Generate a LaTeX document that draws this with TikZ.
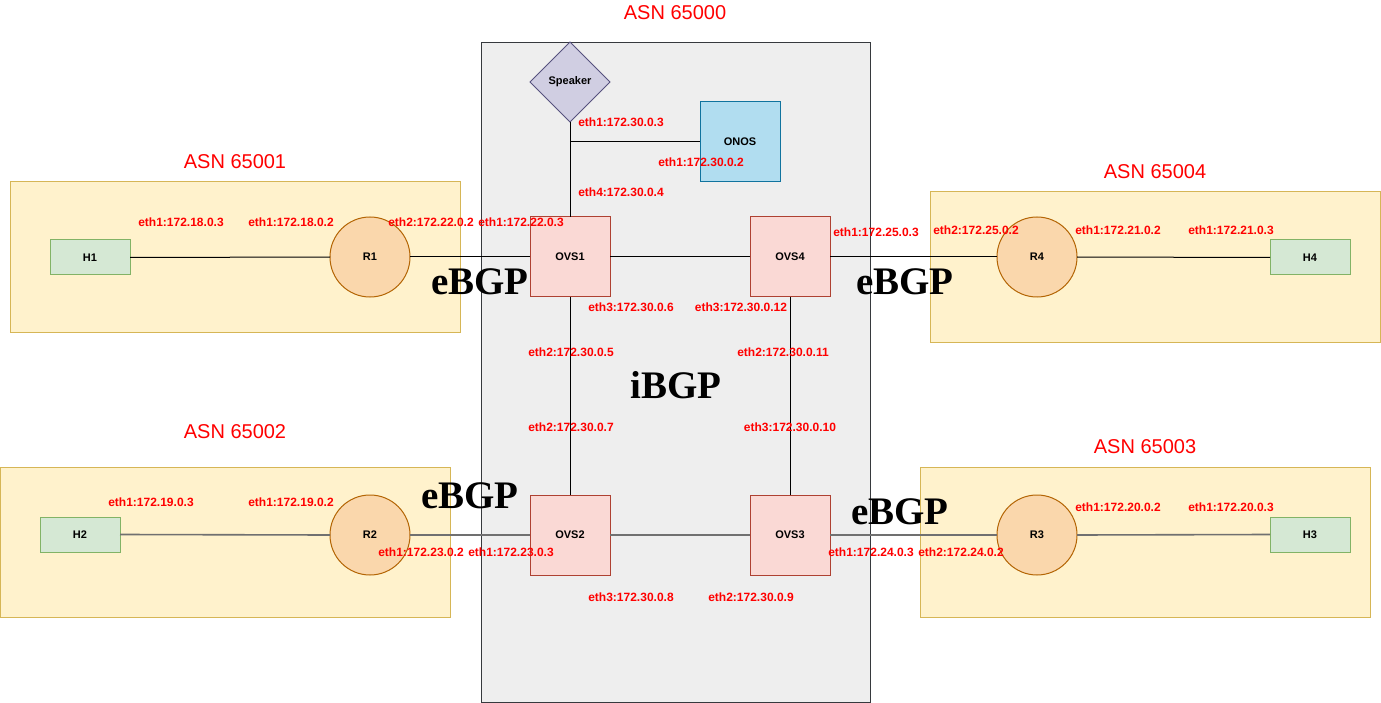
\documentclass[tikz,border=0pt]{standalone}
\usepackage{fontspec}
\setmainfont{Liberation Sans}
\newfontfamily\serifbgp{Liberation Serif}
\usetikzlibrary{shapes.geometric}
\definecolor{asnfill}{HTML}{FFF2CC}
\definecolor{asndraw}{HTML}{D6B656}
\definecolor{corefill}{HTML}{EEEEEE}
\definecolor{coredraw}{HTML}{36393D}
\definecolor{ovsfill}{HTML}{FAD9D5}
\definecolor{ovsdraw}{HTML}{AE4132}
\definecolor{rfill}{HTML}{FAD7AC}
\definecolor{rdraw}{HTML}{B46504}
\definecolor{hfill}{HTML}{D5E8D4}
\definecolor{hdraw}{HTML}{82B366}
\definecolor{spkfill}{HTML}{D0CEE2}
\definecolor{spkdraw}{HTML}{56517E}
\definecolor{onosfill}{HTML}{B1DDF0}
\definecolor{onosdraw}{HTML}{10739E}
\definecolor{lblred}{HTML}{FF0000}
\definecolor{wiregray}{HTML}{707070}
\tikzset{
  every node/.style={inner sep=0pt, outer sep=0pt},
  asnbox/.style={draw=asndraw, fill=asnfill, line width=1pt},
  corebox/.style={draw=coredraw, fill=corefill, line width=1pt},
  ovsbox/.style={rectangle, draw=ovsdraw, fill=ovsfill, line width=1pt, minimum width=80pt, minimum height=80pt, font=\fontsize{11}{13}\selectfont\bfseries},
  rtr/.style={ellipse, draw=rdraw, fill=rfill, line width=1pt, minimum width=80pt, minimum height=80pt, font=\fontsize{11}{13}\selectfont\bfseries},
  hostbox/.style={rectangle, draw=hdraw, fill=hfill, line width=1pt, minimum width=80pt, minimum height=35pt, font=\fontsize{11}{13}\selectfont\bfseries},
  spk/.style={diamond, draw=spkdraw, fill=spkfill, line width=0.8pt, minimum width=80pt, minimum height=80pt, aspect=1, font=\fontsize{11}{13}\selectfont\bfseries},
  onosbox/.style={rectangle, draw=onosdraw, fill=onosfill, line width=1pt, minimum width=80pt, minimum height=80pt, font=\fontsize{11}{13}\selectfont\bfseries},
  lbl/.style={text=lblred, font=\fontsize{12}{14}\selectfont\bfseries},
  asnlbl/.style={text=lblred, font=\fontsize{20}{24}\selectfont},
  bgp/.style={font=\fontsize{39}{44}\selectfont\serifbgp\bfseries},
  wire/.style={draw=black, line width=1pt},
  gwire/.style={draw=wiregray, line width=1.6pt},
}
\begin{document}
\begin{tikzpicture}[x=1pt, y=-1pt]
\useasboundingbox (0,0) rectangle (1381,703);
% AS boxes
\draw[asnbox] (10,182) rectangle (460,332);
\draw[asnbox] (930,192) rectangle (1380,342);
\draw[asnbox] (0,467) rectangle (450,617);
\draw[asnbox] (920,467) rectangle (1370,617);
\draw[corebox] (481,43) rectangle (870,702);
% AS labels
\node[asnlbl] (a0) at (675,13) {ASN 65000};
\node[asnlbl] (a1) at (235,162) {ASN 65001};
\node[asnlbl] (a4) at (1155,172) {ASN 65004};
\node[asnlbl] (a2) at (235,432) {ASN 65002};
\node[asnlbl] (a3) at (1145,447) {ASN 65003};
% nodes
\node[spk] (spk) at (570,82) {Speaker};
\node[onosbox] (onos) at (740,142) {ONOS};
\node[ovsbox] (ovs1) at (570,257) {OVS1};
\node[ovsbox] (ovs4) at (790,257) {OVS4};
\node[ovsbox] (ovs2) at (570,535) {OVS2};
\node[ovsbox] (ovs3) at (790,535) {OVS3};
\node[rtr] (r1) at (370,257) {R1};
\node[rtr] (r4) at (1037,257) {R4};
\node[rtr] (r2) at (370,535) {R2};
\node[rtr] (r3) at (1037,535) {R3};
\node[hostbox] (h1) at (90,257.5) {H1};
\node[hostbox] (h4) at (1310,257.5) {H4};
\node[hostbox] (h2) at (80,534.5) {H2};
\node[hostbox] (h3) at (1310,534.5) {H3};
\coordinate (tee) at (570,142);
% wires
\draw[wire] (spk.south) -- (ovs1.north);
\draw[wire] (tee) -- (onos.west);
\draw[wire] (h1.east) -- (r1.west);
\draw[wire] (r1.east) -- (ovs1.west);
\draw[wire] (ovs1.east) -- (ovs4.west);
\draw[wire] (ovs4.east) -- (r4.west);
\draw[wire] (r4.east) -- (h4.west);
\draw[wire] (ovs1.south) -- (ovs2.north);
\draw[wire] (ovs4.south) -- (ovs3.north);
\draw[gwire] (h2.east) -- (r2.west);
\draw[gwire] (r2.east) -- (ovs2.west);
\draw[gwire] (ovs2.east) -- (ovs3.west);
\draw[gwire] (ovs3.east) -- (r3.west);
\draw[gwire] (r3.east) -- (h3.west);
% interface labels
\node[lbl] (l1) at (621,122) {eth1:172.30.0.3};
\node[lbl] (l2) at (701,162) {eth1:172.30.0.2};
\node[lbl] (l3) at (621,192) {eth4:172.30.0.4};
\node[lbl] (l4) at (181,222) {eth1:172.18.0.3};
\node[lbl] (l5) at (291,222) {eth1:172.18.0.2};
\node[lbl] (l6) at (431,222) {eth2:172.22.0.2};
\node[lbl] (l7) at (521,222) {eth1:172.22.0.3};
\node[lbl] (l8) at (876,232) {eth1:172.25.0.3};
\node[lbl] (l9) at (976,230) {eth2:172.25.0.2};
\node[lbl] (l10) at (1118,230) {eth1:172.21.0.2};
\node[lbl] (l11) at (1231,230) {eth1:172.21.0.3};
\node[lbl] (l12) at (631,307) {eth3:172.30.0.6};
\node[lbl] (l13) at (741,307) {eth3:172.30.0.12};
\node[lbl] (l14) at (571,352) {eth2:172.30.0.5};
\node[lbl] (l15) at (783,352) {eth2:172.30.0.11};
\node[lbl] (l16) at (571,427) {eth2:172.30.0.7};
\node[lbl] (l17) at (790,427) {eth3:172.30.0.10};
\node[lbl] (l18) at (151,502) {eth1:172.19.0.3};
\node[lbl] (l19) at (291,502) {eth1:172.19.0.2};
\node[lbl] (l20) at (421,552) {eth1:172.23.0.2};
\node[lbl] (l21) at (511,552) {eth1:172.23.0.3};
\node[lbl] (l22) at (631,597) {eth3:172.30.0.8};
\node[lbl] (l23) at (751,597) {eth2:172.30.0.9};
\node[lbl] (l24) at (871,552) {eth1:172.24.0.3};
\node[lbl] (l25) at (961,552) {eth2:172.24.0.2};
\node[lbl] (l26) at (1118,507) {eth1:172.20.0.2};
\node[lbl] (l27) at (1231,507) {eth1:172.20.0.3};
% BGP labels
\node[bgp] (b1) at (480,282) {eBGP};
\node[bgp] (b2) at (905,282) {eBGP};
\node[bgp] (b3) at (470,496) {eBGP};
\node[bgp] (b4) at (900,512) {eBGP};
\node[bgp] (b5) at (676,385) {iBGP};
\end{tikzpicture}
\end{document}
